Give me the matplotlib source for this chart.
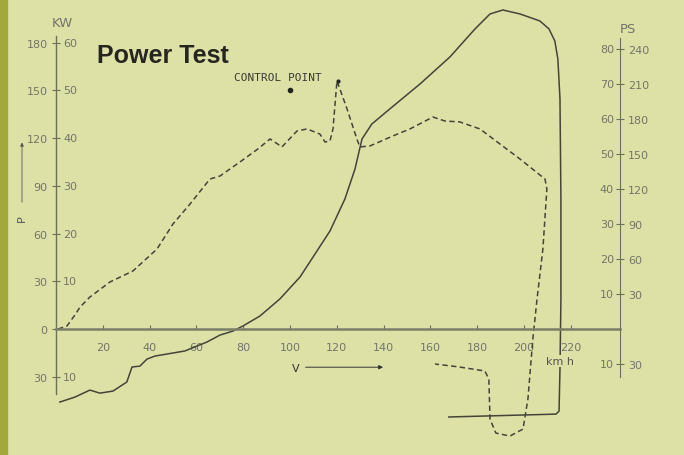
import matplotlib.pyplot as plt
from matplotlib.patches import Rectangle

# speed (km/h) and power (KW)
solid_v = [1.7, 8.1, 14.5, 18.8, 24.4, 30.3, 32.5, 35.9, 38.9, 42.3, 55.1, 64.5, 70.1, 75.6,
           79.9, 87.2, 95.7, 104.3, 117.1, 123.5, 127.8, 130.8, 135.0, 142.7, 155.6, 168.4,
           179.1, 185.5, 191.0, 198.3, 206.8, 210.7, 213.2, 214.5, 215.4, 215.8, 215.8,
           215.4, 215.0, 213.7, 167.9]
solid_kw = [-45.9, -42.8, -38.4, -40.3, -39.0, -33.3, -23.9, -23.3, -18.9, -17.0, -13.8, -8.2,
            -3.8, -1.3, 1.9, 8.2, 18.9, 32.7, 61.6, 81.8, 100.6, 119.5, 128.9, 138.4, 154.1,
            171.1, 188.7, 198.1, 200.6, 198.1, 193.7, 188.7, 181.1, 169.8, 144.7, 81.8, 18.9,
            -25.2, -51.6, -53.5, -55.3]

dash_v = [0.9, 4.7, 8.1, 10.3, 14.5, 23.1, 32.9, 43.2, 50.0, 57.3, 65.8, 70.1, 78.6, 86.3,
          91.5, 96.6, 103.0, 107.3, 112.8, 115.0, 117.1, 118.4, 120.1, 124.4, 128.6, 129.9,
          134.2, 144.0, 151.3, 161.1, 166.2, 172.6, 181.2, 189.7, 198.3, 209.0, 209.8, 208.1,
          205.6, 203.8, 201.7, 199.6, 194.0, 188.0, 185.5, 185.0, 183.3, 172.6, 162.0]
dash_kw = [0, 1.9, 8.8, 13.8, 20.1, 29.6, 36.5, 50.3, 66.0, 78.6, 94.3, 96.2, 105.0, 113.2,
           119.5, 114.5, 124.5, 125.8, 122.6, 117.6, 118.2, 125.8, 156.0, 138.4, 119.5, 114.5,
           115.1, 121.4, 125.8, 133.3, 130.8, 130.2, 125.8, 116.4, 106.9, 94.3, 88.1, 50.3,
           18.9, -6.3, -44.0, -62.9, -67.3, -65.4, -56.6, -31.4, -26.4, -23.9, -22.0]

x_ticks = [20, 40, 60, 80, 100, 120, 140, 160, 180, 200, 220]
kw_ticks = [-30, 0, 30, 60, 90, 120, 150, 180]
kw_side = ['10', '', '10', '20', '30', '40', '50', '60']
ps_ticks = [-10, 10, 20, 30, 40, 50, 60, 70, 80]
ps_side = ['30', '30', '60', '90', '120', '150', '180', '210', '240']
ps_to_kw = 2.2

control_point = (120.5, 156)
test_point = (100, 150)

bg = '#dee1a6'
ink = '#44443a'
lab = '#74746a'
axc = '#6c715c'
fs = 8

fig = plt.figure(figsize=(6.84, 4.56), dpi=100, facecolor=bg)
ax = fig.add_axes([0, 0, 1, 1])
ax.set_facecolor(bg)
ax.set_xlim(-23.9, 268.4)
ax.set_ylim(-79.2, 207.5)

# axis lines
ax.spines['top'].set_visible(False)
ax.spines['right'].set_visible(False)
ax.spines['left'].set_position(('data', 0))
ax.spines['left'].set_bounds(-41, 184)
ax.spines['bottom'].set_position(('data', 0))
ax.spines['bottom'].set_bounds(0, 241)
ax.spines['left'].set_color(axc)
ax.spines['bottom'].set_color('#7a8068')
ax.spines['left'].set_linewidth(1.0)
ax.spines['bottom'].set_linewidth(1.8)

ax.set_xticks(x_ticks)
ax.set_xticklabels([str(t) for t in x_ticks], fontsize=fs, color=lab)
ax.tick_params(axis='x', direction='in', length=3, width=0.8, color=axc, pad=9)
ax.set_yticks(kw_ticks)
ax.set_yticklabels([str(abs(t)) for t in kw_ticks], fontsize=fs, color=lab)
ax.tick_params(axis='y', direction='inout', length=6, width=0.8, color=axc, pad=3)
for k, s in zip(kw_ticks, kw_side):
    ax.text(3, k, s, fontsize=fs, color=lab, ha='left', va='center')

# right PS axis
ax2 = ax.twinx()
ax2.set_ylim(ax.get_ylim())
for s in ['top', 'left', 'bottom']:
    ax2.spines[s].set_visible(False)
ax2.spines['right'].set_position(('data', 241))
ax2.spines['right'].set_bounds(-30, 183)
ax2.spines['right'].set_color(axc)
ax2.set_yticks([p * ps_to_kw for p in ps_ticks])
ax2.set_yticklabels(ps_side, fontsize=fs, color=lab)
ax2.tick_params(axis='y', direction='inout', length=6, width=0.8, color=axc, pad=3)
for p in ps_ticks:
    ax.text(238.5, p * ps_to_kw, str(abs(p)), fontsize=fs, color=lab,
            ha='right', va='center')

# curves
ax.plot(solid_v, solid_kw, color=ink, lw=1.1, solid_joinstyle='round')
ax.plot(dash_v, dash_kw, color=ink, lw=1.1, linestyle=(0, (3.5, 2.2)))
ax.plot(*test_point, 'o', color='#222', ms=3)
ax.plot(*control_point, 'o', color='#222', ms=2)

# labels
ax.text(17.5, 172, 'Power Test', fontsize=18, fontweight='bold', family='Liberation Sans',
        color='#262620', va='center')
ax.text(76, 158.5, 'CONTROL POINT', fontsize=8, family='DejaVu Sans Mono', color='#3a3a32',
        va='center')
ax.text(2.6, 192.5, 'KW', fontsize=9.5, color=lab, ha='center', va='center')
ax.text(244.4, 189, 'PS', fontsize=9.5, color=lab, ha='center', va='center')
ax.text(215.4, -20, 'km h', fontsize=8, color='#55554a', ha='center', va='center',
        bbox=dict(facecolor=bg, edgecolor='none', pad=0.5))
ax.text(102.6, -24.5, 'V', fontsize=8, color='#333', ha='center', va='center')
ax.annotate('', xy=(141, -24), xytext=(105.5, -24),
            arrowprops=dict(arrowstyle='-|>', color='#333', lw=0.7, mutation_scale=6))
ax.annotate('', xy=(-14.5, 119), xytext=(-14.5, 78),
            arrowprops=dict(arrowstyle='-|>', color='#555', lw=0.6, mutation_scale=5))
ax.text(-14.5, 70, 'P', fontsize=8, color='#555', ha='center', va='center', rotation=90)

# dark olive strip on the left edge of the scan
fig.add_artist(Rectangle((0, 0), 7 / 684, 1, transform=fig.transFigure, color='#a3a83c', zorder=5))

plt.savefig('out.png', dpi=100, facecolor=bg)
